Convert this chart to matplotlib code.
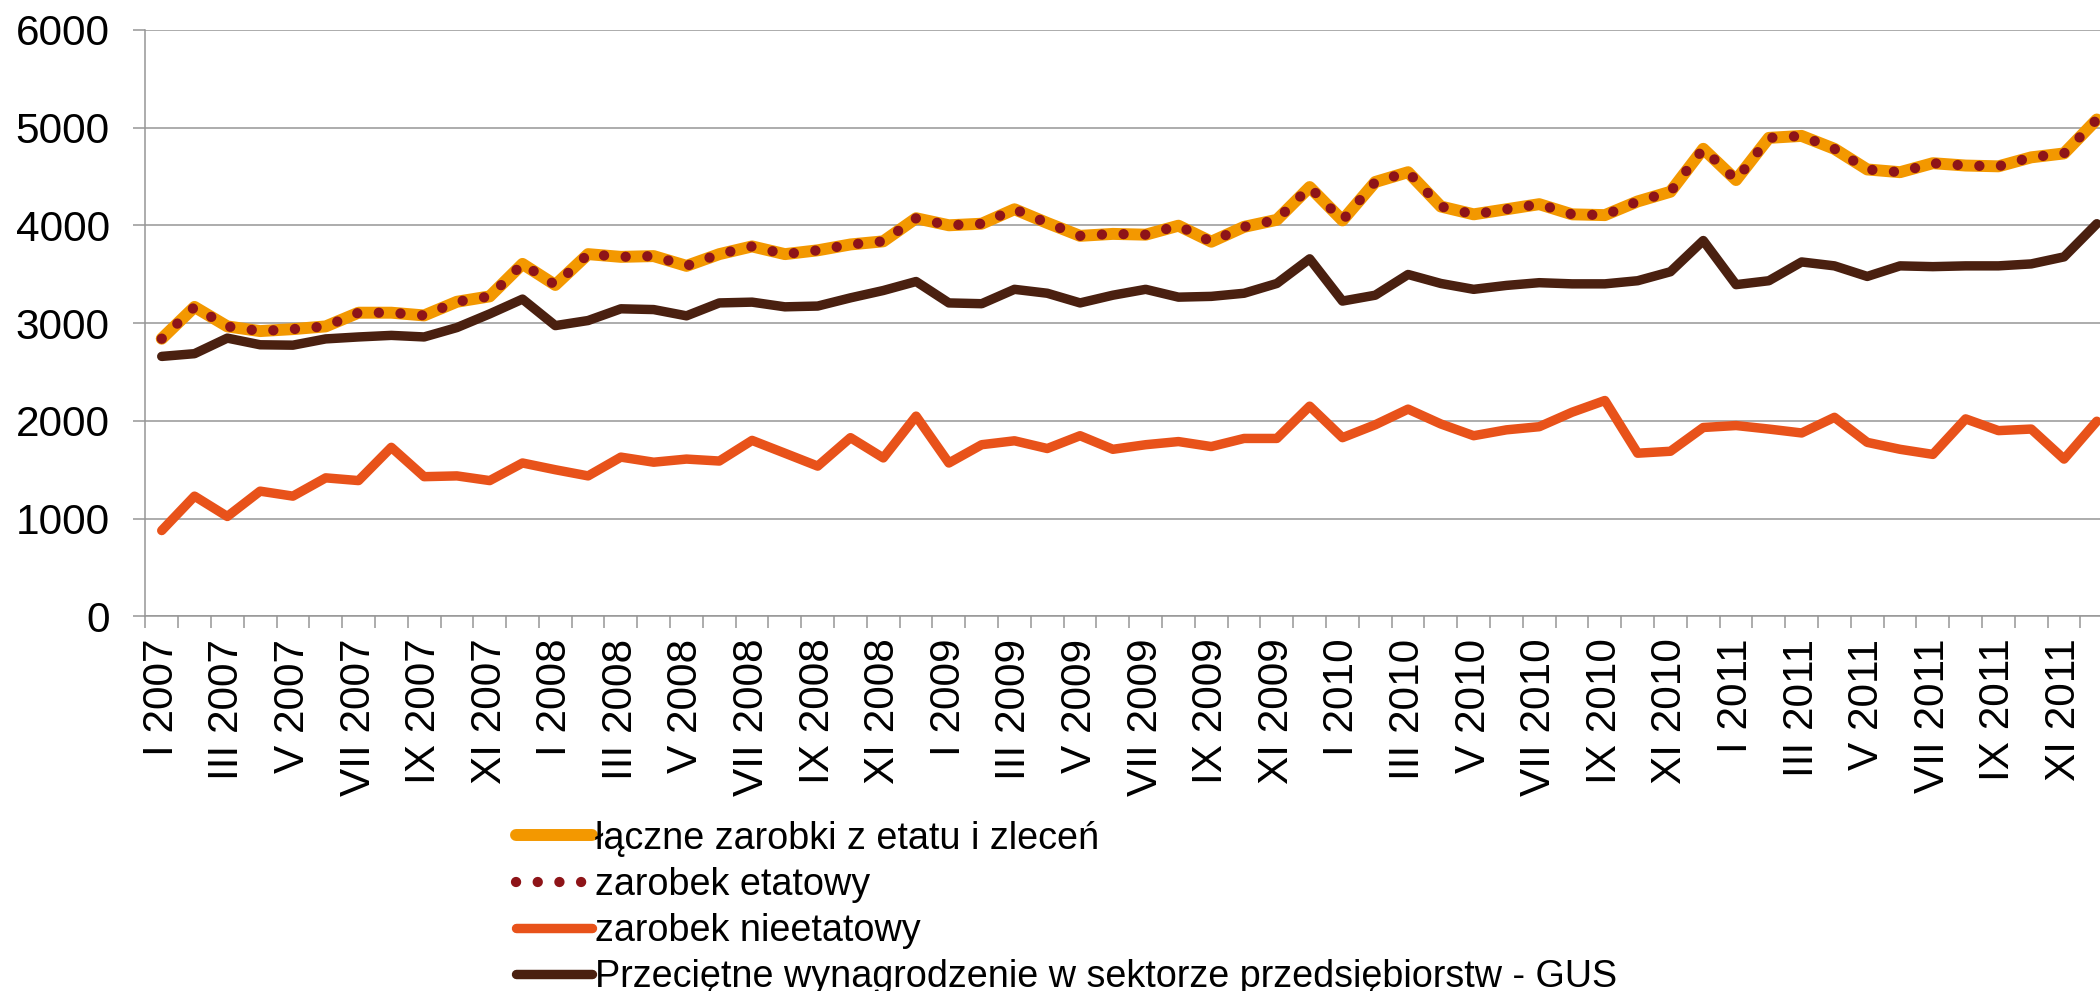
import numpy as np
import matplotlib.pyplot as plt

plt.rcParams['font.family'] = ['Liberation Sans', 'DejaVu Sans']

rzymskie = ['I', 'II', 'III', 'IV', 'V', 'VI', 'VII', 'VIII', 'IX', 'X', 'XI', 'XII']
lata = [2007, 2008, 2009, 2010, 2011]
miesiace = [f'{r} {rok}' for rok in lata for r in rzymskie]

# srednie zarobki miesieczne (zl)
laczne = [2840, 3165, 2966, 2918, 2938, 2966, 3106, 3106, 3078, 3218, 3273, 3605,
          3390, 3705, 3677, 3685, 3585, 3705, 3784, 3705, 3744, 3804, 3836, 4072,
          4000, 4016, 4164, 4024, 3892, 3912, 3904, 3996, 3832, 3984, 4056, 4391,
          4050, 4443, 4543, 4192, 4112, 4164, 4216, 4112, 4104, 4244, 4343, 4782,
          4463, 4894, 4914, 4782, 4571, 4543, 4635, 4611, 4603, 4695, 4735, 5082]
etatowy = [2840, 3165, 2966, 2918, 2938, 2966, 3106, 3106, 3078, 3218, 3273, 3605,
           3390, 3705, 3677, 3685, 3585, 3705, 3784, 3705, 3744, 3804, 3836, 4072,
           4000, 4016, 4164, 4024, 3892, 3912, 3904, 3996, 3832, 3984, 4056, 4391,
           4050, 4443, 4543, 4192, 4112, 4164, 4216, 4112, 4104, 4244, 4343, 4782,
           4463, 4894, 4914, 4782, 4571, 4543, 4635, 4611, 4603, 4695, 4735, 5082]
nieetatowy = [878, 1230, 1022, 1281, 1230, 1417, 1389, 1729, 1429, 1437, 1389, 1569,
              1500, 1437, 1629, 1577, 1609, 1589, 1800, 1669, 1537, 1828, 1621, 2048,
              1569, 1756, 1796, 1717, 1848, 1709, 1756, 1788, 1737, 1820, 1820, 2150,
              1828, 1960, 2120, 1968, 1848, 1908, 1940, 2088, 2208, 1669, 1689, 1932,
              1952, 1916, 1876, 2036, 1780, 1709, 1657, 2020, 1900, 1916, 1609, 1996]
gus = [2659, 2687, 2846, 2778, 2774, 2838, 2858, 2874, 2858, 2954, 3094, 3245,
       2974, 3026, 3146, 3138, 3074, 3206, 3214, 3166, 3174, 3258, 3333, 3425,
       3206, 3198, 3345, 3305, 3206, 3285, 3345, 3265, 3273, 3305, 3405, 3657,
       3225, 3285, 3497, 3405, 3345, 3385, 3413, 3401, 3401, 3433, 3525, 3844,
       3393, 3433, 3625, 3585, 3477, 3585, 3577, 3585, 3585, 3605, 3677, 4016]

nazwy = ['łączne zarobki z etatu i zleceń',
         'zarobek etatowy',
         'zarobek nieetatowy',
         'Przeciętne wynagrodzenie w sektorze przedsiębiorstw - GUS']

szary = '#969696'

fig = plt.figure(figsize=(21, 9.91), dpi=100)
# os wychodzi troche poza prawa krawedz, tak jak w oryginale
ax = fig.add_axes([0.0692, 0.378, 0.9371, 0.592])
x = np.arange(len(miesiace))

ax.plot(x, laczne, color='#F39800', lw=8.6, solid_capstyle='round',
        solid_joinstyle='round', label=nazwy[0], zorder=3)
ax.plot(x, etatowy, color='#8E1418', lw=7.4, linestyle=(0, (0.01, 2.1)),
        dash_capstyle='round', label=nazwy[1], zorder=4)
ax.plot(x, nieetatowy, color='#E8521A', lw=6.8, solid_capstyle='round',
        solid_joinstyle='round', label=nazwy[2], zorder=3)
ax.plot(x, gus, color='#4A2010', lw=6.8, solid_capstyle='round',
        solid_joinstyle='round', label=nazwy[3], zorder=3)

ax.set_xlim(-0.5, len(miesiace) - 0.5)
ax.set_ylim(0, 6000)
ax.set_yticks(range(0, 6001, 1000))

ax.set_xticks(np.arange(-0.5, len(miesiace), 1))
ax.set_xticklabels([])
ax.set_xticks(x[::2], miesiace[::2], minor=True, rotation=90)

ax.tick_params(axis='x', which='major', length=8.6, width=1.1, color=szary)
ax.tick_params(axis='x', which='minor', length=0, pad=16, labelsize=30.5)
ax.tick_params(axis='y', length=8.6, width=1.1, color=szary, pad=17, labelsize=30.5)

ax.yaxis.grid(True, color=szary, lw=1.1)
ax.set_axisbelow(True)
for s in ['top', 'right']:
    ax.spines[s].set_visible(False)
for s in ['left', 'bottom']:
    ax.spines[s].set_color(szary)
    ax.spines[s].set_linewidth(1.1)

fig.legend(loc='upper left', bbox_to_anchor=(0.2457, 0.172), frameon=False,
           fontsize=27.2, handlelength=2.0, handletextpad=0.08,
           labelspacing=0.27, borderpad=0, borderaxespad=0)

fig.savefig('out.png', dpi=100)
